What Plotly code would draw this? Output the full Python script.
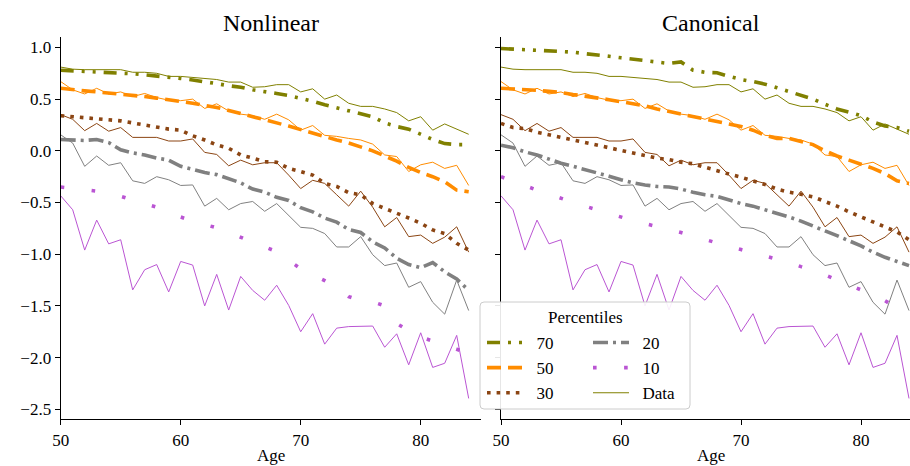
import plotly.graph_objects as go

ages = list(range(50, 85))

# ---- observed data (shared by both panels) ----
data_p70 = [0.81, 0.79, 0.785, 0.785, 0.78, 0.785, 0.76, 0.76, 0.75, 0.72,
            0.72, 0.71, 0.70, 0.69, 0.665, 0.665, 0.615, 0.62, 0.64, 0.64,
            0.57, 0.60, 0.50, 0.54, 0.46, 0.43, 0.43, 0.405, 0.37, 0.29,
            0.33, 0.20, 0.26, 0.21, 0.16]
data_p50 = [0.67, 0.59, 0.55, 0.605, 0.55, 0.57, 0.525, 0.555, 0.515, 0.49,
            0.485, 0.50, 0.41, 0.455, 0.385, 0.355, 0.34, 0.305, 0.355, 0.30,
            0.20, 0.245, 0.15, 0.14, 0.12, 0.105, 0.065, -0.04, -0.055, -0.20,
            -0.135, -0.11, -0.17, -0.14, -0.335]
data_p30 = [0.35, 0.305, 0.195, 0.265, 0.19, 0.225, 0.13, 0.13, 0.13, 0.095,
            0.095, 0.115, -0.015, -0.035, -0.145, -0.09, -0.135, -0.115, -0.115, -0.235,
            -0.365, -0.285, -0.315, -0.425, -0.535, -0.39, -0.545, -0.735, -0.645, -0.83,
            -0.815, -0.895, -0.835, -0.735, -0.98]
data_p20 = [0.155, 0.075, -0.15, -0.05, -0.14, -0.115, -0.29, -0.315, -0.25, -0.28,
            -0.335, -0.33, -0.535, -0.46, -0.57, -0.51, -0.49, -0.585, -0.51, -0.62,
            -0.74, -0.75, -0.80, -0.93, -0.93, -0.83, -1.005, -1.11, -1.085, -1.32,
            -1.265, -1.465, -1.58, -1.25, -1.545]
data_p10 = [-0.435, -0.57, -0.96, -0.67, -0.90, -0.86, -1.345, -1.15, -1.10, -1.365,
            -1.07, -1.105, -1.50, -1.195, -1.54, -1.215, -1.35, -1.445, -1.30, -1.495,
            -1.75, -1.575, -1.87, -1.715, -1.70, -1.70, -1.695, -1.90, -1.77, -2.07,
            -1.76, -2.095, -2.055, -1.785, -2.395]

# ---- Nonlinear model percentiles ----
nl_p70 = [0.78, 0.775, 0.77, 0.765, 0.76, 0.755, 0.745, 0.735, 0.725, 0.71,
          0.70, 0.685, 0.67, 0.65, 0.63, 0.615, 0.59, 0.575, 0.555, 0.535,
          0.51, 0.48, 0.445, 0.415, 0.39, 0.355, 0.33, 0.27, 0.235, 0.21,
          0.16, 0.11, 0.07, 0.06, 0.06]
nl_p50 = [0.605, 0.59, 0.58, 0.57, 0.56, 0.55, 0.535, 0.525, 0.51, 0.495,
          0.48, 0.46, 0.44, 0.42, 0.39, 0.36, 0.33, 0.305, 0.27, 0.24,
          0.205, 0.17, 0.14, 0.105, 0.075, 0.04, 0.0, -0.05, -0.10, -0.16,
          -0.21, -0.25, -0.30, -0.38, -0.395]
nl_p30 = [0.34, 0.33, 0.32, 0.31, 0.30, 0.29, 0.27, 0.25, 0.23, 0.21,
          0.20, 0.145, 0.105, 0.057, 0.025, -0.04, -0.07, -0.105, -0.11, -0.17,
          -0.20, -0.235, -0.315, -0.345, -0.405, -0.425, -0.51, -0.555, -0.605, -0.65,
          -0.70, -0.765, -0.80, -0.895, -0.96]
nl_p20 = [0.11, 0.105, 0.10, 0.11, 0.08, 0.01, -0.02, -0.04, -0.07, -0.09,
          -0.15, -0.18, -0.21, -0.23, -0.27, -0.31, -0.37, -0.40, -0.45, -0.48,
          -0.55, -0.59, -0.65, -0.69, -0.76, -0.79, -0.88, -0.94, -1.04, -1.10,
          -1.13, -1.08, -1.17, -1.24, -1.35]
nl_p10 = [-0.35, -0.365, -0.38, -0.39, -0.415, -0.44, -0.475, -0.51, -0.545, -0.59,
          -0.64, -0.68, -0.71, -0.745, -0.79, -0.835, -0.88, -0.925, -0.975, -1.06,
          -1.14, -1.20, -1.255, -1.32, -1.41, -1.45, -1.46, -1.50, -1.67, -1.74,
          -1.80, -1.84, -1.885, -1.92, -1.96]

# ---- Canonical model percentiles ----
can_p70 = [0.99, 0.985, 0.98, 0.975, 0.97, 0.965, 0.955, 0.94, 0.93, 0.915,
           0.90, 0.885, 0.87, 0.855, 0.845, 0.86, 0.78, 0.76, 0.755, 0.72,
           0.69, 0.67, 0.645, 0.61, 0.575, 0.535, 0.50, 0.45, 0.405, 0.375,
           0.34, 0.28, 0.24, 0.225, 0.19]
can_p50 = [0.605, 0.60, 0.59, 0.585, 0.575, 0.565, 0.545, 0.53, 0.51, 0.495,
           0.475, 0.455, 0.435, 0.405, 0.38, 0.355, 0.33, 0.31, 0.28, 0.26,
           0.235, 0.20, 0.15, 0.12, 0.12, 0.09, 0.06, 0.0, -0.05, -0.09,
           -0.13, -0.17, -0.22, -0.29, -0.315]
can_p30 = [0.265, 0.225, 0.215, 0.18, 0.155, 0.13, 0.105, 0.08, 0.05, 0.03,
           0.005, -0.02, -0.05, -0.07, -0.085, -0.11, -0.125, -0.16, -0.19, -0.225,
           -0.255, -0.29, -0.325, -0.37, -0.40, -0.42, -0.445, -0.49, -0.535, -0.59,
           -0.64, -0.69, -0.74, -0.785, -0.86]
can_p20 = [0.055, 0.03, -0.01, -0.04, -0.08, -0.12, -0.15, -0.18, -0.215, -0.245,
           -0.28, -0.31, -0.33, -0.345, -0.35, -0.37, -0.40, -0.425, -0.44, -0.475,
           -0.51, -0.535, -0.57, -0.60, -0.64, -0.68, -0.73, -0.775, -0.82, -0.87,
           -0.92, -0.98, -1.03, -1.07, -1.11]
can_p10 = [-0.25, -0.295, -0.34, -0.38, -0.42, -0.46, -0.50, -0.535, -0.57, -0.605,
           -0.645, -0.675, -0.705, -0.73, -0.76, -0.79, -0.825, -0.86, -0.895, -0.925,
           -0.955, -0.985, -1.015, -1.045, -1.08, -1.12, -1.155, -1.20, -1.25, -1.30,
           -1.345, -1.39, -1.45, -1.52, -1.56]

percentile_labels = ["70", "50", "30", "20", "10"]
data_label = "Data"
legend_title = "Percentiles"
panel_titles = ["Nonlinear", "Canonical"]
x_label = "Age"
x_ticks = [50, 60, 70, 80]
y_ticks = [-2.5, -2.0, -1.5, -1.0, -0.5, 0.0, 0.5, 1.0]

# ---- styles ----
FONT = "Liberation Serif"
W, H = 910, 466
colors = ["#808000", "#FF8C00", "#8B4513", "#808080", "#BA55D3"]
dashes = ["13px,8px,3px,8px,3px,8px", "14px,7px", "3.6px,6px",
          "15px,5px,3px,5px", "3.6px,27.5px"]
model_width = 3.6
data_width = 1.0
PAD = "\u00a0\u00a0"  # small gap between legend handle and label

data_sets = [data_p70, data_p50, data_p30, data_p20, data_p10]
model_sets = [[nl_p70, nl_p50, nl_p30, nl_p20, nl_p10],
              [can_p70, can_p50, can_p30, can_p20, can_p10]]


def fx(p):
    return p / W


def fy(p):
    return 1 - p / H


fig = go.Figure()
axes = [("x", "y"), ("x2", "y2")]
for pi, (xa, ya) in enumerate(axes):
    for i, lab in enumerate(percentile_labels):
        fig.add_trace(go.Scatter(
            x=ages, y=model_sets[pi][i], xaxis=xa, yaxis=ya, mode="lines",
            name=PAD + lab, showlegend=(pi == 0),
            legend="legend" if i < 3 else "legend2",
            line=dict(color=colors[i], width=model_width, dash=dashes[i]),
        ))
    for i, lab in enumerate(percentile_labels):
        fig.add_trace(go.Scatter(
            x=ages, y=data_sets[i], xaxis=xa, yaxis=ya, mode="lines",
            name=PAD + data_label, showlegend=(pi == 0 and i == 0), legend="legend2",
            line=dict(color=colors[i], width=data_width),
        ))

axis_common = dict(
    showline=True, linecolor="black", linewidth=1.3, ticks="outside",
    ticklen=5, tickwidth=1.3, tickcolor="black", showgrid=False,
    zeroline=False, automargin=False,
    tickfont=dict(family=FONT, size=17, color="black"),
)
y_dom = [fy(419), fy(36.7)]
yr = [-2.594, 1.104]
x2_end = 50 + (910 - 501) / 12.0

legend_common = dict(xanchor="left", yanchor="top", bgcolor="rgba(0,0,0,0)",
                     borderwidth=0, tracegroupgap=0, itemwidth=36,
                     font=dict(family=FONT, size=17, color="black"))

fig.update_layout(
    width=W, height=H,
    margin=dict(l=0, r=0, t=0, b=0, pad=0, autoexpand=False),
    paper_bgcolor="white", plot_bgcolor="white",
    font=dict(family=FONT, size=17, color="black"),
    xaxis=dict(domain=[fx(60.7), fx(480.7)], range=[50, 85], tickvals=x_ticks,
               anchor="y", **axis_common),
    yaxis=dict(domain=y_dom, range=yr, tickvals=y_ticks, tickformat=".1f",
               anchor="x", **axis_common),
    xaxis2=dict(domain=[fx(501), 1.0], range=[50, x2_end], tickvals=x_ticks,
                anchor="y2", **axis_common),
    yaxis2=dict(domain=y_dom, range=yr, tickvals=y_ticks, showticklabels=False,
                anchor="x2", **axis_common),
    legend=dict(x=fx(482), y=fy(325), **legend_common),
    legend2=dict(x=fx(588), y=fy(325), **legend_common),
)

# titles and axis labels
centers = [270.7, 711]
for c, t in zip(centers, panel_titles):
    fig.add_annotation(text=t, x=fx(c), y=fy(23), xref="paper", yref="paper",
                       xanchor="center", yanchor="middle", showarrow=False,
                       font=dict(family=FONT, size=24, color="black"))
    fig.add_annotation(text=x_label, x=fx(c), y=fy(455), xref="paper", yref="paper",
                       xanchor="center", yanchor="middle", showarrow=False,
                       font=dict(family=FONT, size=17, color="black"))

# legend frame (rounded) and title
x0, x1, y0, y1, r = 480, 690, 302, 409, 4
path = (f"M {fx(x0 + r)},{fy(y0)} L {fx(x1 - r)},{fy(y0)} Q {fx(x1)},{fy(y0)} {fx(x1)},{fy(y0 + r)} "
        f"L {fx(x1)},{fy(y1 - r)} Q {fx(x1)},{fy(y1)} {fx(x1 - r)},{fy(y1)} "
        f"L {fx(x0 + r)},{fy(y1)} Q {fx(x0)},{fy(y1)} {fx(x0)},{fy(y1 - r)} "
        f"L {fx(x0)},{fy(y0 + r)} Q {fx(x0)},{fy(y0)} {fx(x0 + r)},{fy(y0)} Z")
fig.add_shape(type="path", path=path, xref="paper", yref="paper", layer="above",
              fillcolor="rgba(255,255,255,0.9)", line=dict(color="#cccccc", width=1))
fig.add_annotation(text=legend_title, x=fx(585), y=fy(317), xref="paper", yref="paper",
                   xanchor="center", yanchor="middle", showarrow=False,
                   font=dict(family=FONT, size=17, color="black"))

# remove the browser's default page margin so the figure sits at the window origin
fig.write_html("out.html", config={"displayModeBar": False},
               post_script="document.body.style.margin='0';")
